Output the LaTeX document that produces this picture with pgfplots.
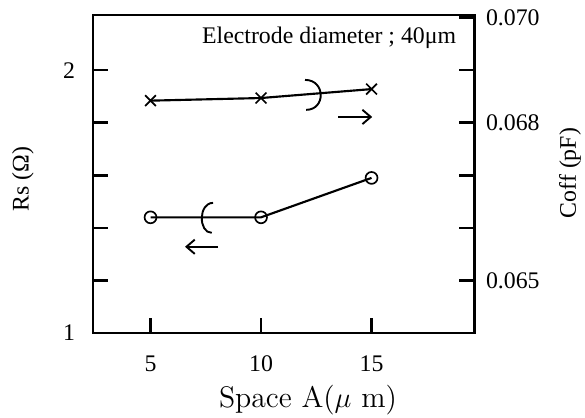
\documentclass[border=0pt]{standalone}
\usepackage{fontspec}
\usepackage{pgfplots}
\pgfplotsset{compat=1.18}
\usetikzlibrary{arrows.meta}
\newfontfamily\tms{Liberation Serif}

% shared frame for both y scales
\pgfplotsset{
  base/.style={
    at={(0,0)}, anchor=south west,
    scale only axis, width=160.1pt, height=133.6pt,
    xmin=2.4, xmax=19.64,
    axis line style={line width=1.2pt},
    tick align=inside, major tick length=6.3pt,
    every tick/.style={black, line width=1.1pt},
    tick label style={font=\tms},
    /pgf/number format/assume math mode=true,
    label style={font=\tms},
    clip=false,
  },
}
\tikzset{
  ann/.style={line width=0.8pt},
  arr/.style={line width=0.8pt, -{Straight Barb[length=3.5pt,width=6pt]}},
}

\begin{document}
\begin{tikzpicture}
% left axis: Rs
\begin{axis}[base,
  ymin=1, ymax=2.21,
  xtick={5,10,15}, xtick pos=bottom,
  xticklabel style={yshift=-6pt},
  ytick={1,1.2,1.4,1.6,1.8,2}, yticklabels={1,,,,,2}, ytick pos=left,
  yticklabel style={xshift=-4pt},
  xlabel={Space A($\mu$~m)},
  xlabel style={font=\fontsize{12.5}{15}\selectfont, at={(axis description cs:0.564,-0.211)}, anchor=center},
  ylabel={Rs (Ω)},
  ylabel style={at={(axis description cs:-0.184,0.484)}, anchor=center},
]
\addplot[black, line width=0.9pt, mark=o, mark size=2.5pt,
  mark options={fill=white, line width=0.7pt}]
  coordinates {(5,1.44)(10,1.44)(15,1.59)};
\draw[ann] (axis cs:7.83,1.495) .. controls (axis cs:7.16,1.495) and (axis cs:7.16,1.381) .. (axis cs:7.77,1.381);
\draw[arr] (axis cs:8.06,1.328) -- (axis cs:6.56,1.328);
\draw[ann] (axis cs:11.99,1.963) .. controls (axis cs:12.93,1.963) and (axis cs:12.93,1.849) .. (axis cs:12.04,1.849);
\draw[arr] (axis cs:13.49,1.822) -- (axis cs:15.03,1.822);
\node[font=\tms] at (axis cs:13.08,2.1225) {Electrode diameter ; 40μm};
\end{axis}
% right axis: Coff
\begin{axis}[base,
  ymin=0.064, ymax=0.07005,
  scaled y ticks=false,
  xtick=\empty,
  ytick={0.065,0.066,0.067,0.068,0.069,0.070},
  yticklabels={0.065,,,0.068,,0.070},
  ytick pos=right, yticklabel pos=right,
  yticklabel style={xshift=1.5pt},
  ylabel={Coff (pF)},
  ylabel style={at={(axis description cs:1.252,0.503)}, anchor=center},
]
\addplot[black, line width=0.9pt, mark=x, mark size=3.2pt,
  mark options={line width=0.7pt}]
  coordinates {(5,0.06842)(10,0.06847)(15,0.06864)};
\end{axis}
\pgfresetboundingbox
\path (-39.1pt,-35.7pt) rectangle (206.7pt,139.9pt);
\end{tikzpicture}
\end{document}
